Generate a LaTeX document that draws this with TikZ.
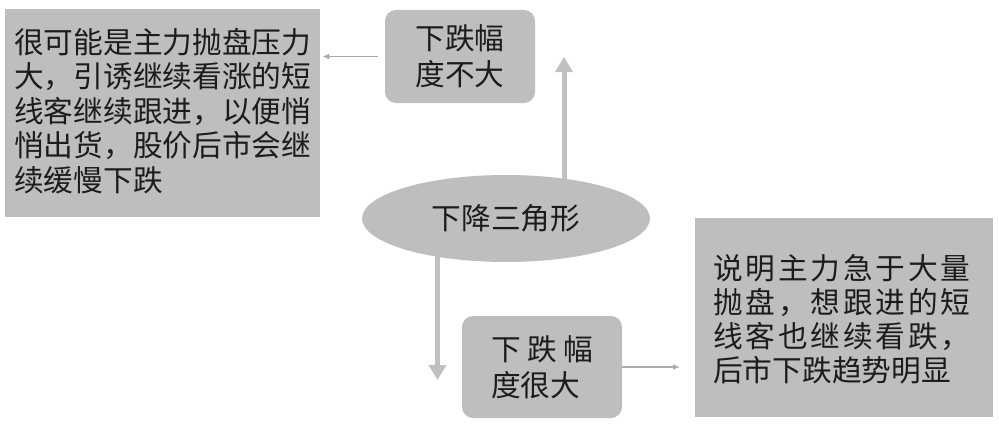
\documentclass[tikz,border=0pt]{standalone}
\usepackage{fontspec}
\newfontfamily\cjk{Noto Sans CJK SC}
\usetikzlibrary{shapes.geometric,arrows.meta,backgrounds}
\definecolor{boxgray}{RGB}{191,190,191}
\definecolor{arrowgray}{RGB}{192,192,192}
\definecolor{linegray}{RGB}{172,172,172}
\definecolor{inkgray}{RGB}{28,28,28}
\makeatletter
\newcommand{\spreadline}[2]{\makebox[#1][s]{\@tempswafalse\@tfor\sp@ch:=#2\do{\if@tempswa\hfill\fi\sp@ch\@tempswatrue}}}
\makeatother
\begin{document}
\begin{tikzpicture}[x=1bp,y=1bp,>=latex,line join=bevel,
  every node/.style={font=\cjk\fontsize{29.7bp}{36bp}\selectfont,text=inkgray},
  panel/.style={fill=boxgray,inner ysep=0},
  roundbox/.style={fill=boxgray,rounded corners=11bp,align=left,inner sep=0},
  thickarrow/.style={draw=arrowgray,line width=5bp,-{Triangle[width=17bp,length=15bp]}},
  thinarrow/.style={draw=linegray,line width=1.2bp,-{Latex[width=6bp,length=7bp]}}]
\useasboundingbox (0,0) rectangle (999,423);
%%
\node (node_tri) at (506,204.5) [ellipse,fill=boxgray,minimum width=288bp,minimum height=87bp,inner sep=0] {下降三角形};
  \node (node_small) at (460,366.5) [roundbox,minimum width=150bp,minimum height=93bp] {\fontsize{29.7bp}{37bp}\selectfont 下跌幅\\度不大};
  \node (node_large) at (542,56) [roundbox,minimum width=160bp,minimum height=102bp] {\spreadline{102bp}{下跌幅}\\度很大};
  \node (node_slow) at (5,414) [panel,anchor=north west,inner xsep=9bp] {\parbox[t][208bp][t]{297bp}{\fontsize{29.7bp}{34.5bp}\selectfont\vspace*{19bp}%
    \mbox{很可能是主力抛盘压力}\\\mbox{大，引诱继续看涨的短}\\\mbox{线客继续跟进，以便悄}\\\mbox{悄出货，股价后市会继}\\\mbox{续缓慢下跌}}};
  \node (node_sharp) at (695,205) [panel,anchor=north west,inner xsep=18bp] {\parbox[t][199bp][t]{262bp}{\fontsize{29.7bp}{34bp}\selectfont\vspace*{36bp}%
    \spreadline{257bp}{说明主力急于大量}\\\spreadline{257bp}{抛盘，想跟进的短}\\\spreadline{257bp}{线客也继续看跌，}\\\mbox{后市下跌趋势明显}}};
  \coordinate (up_tip) at (564,366);
  \coordinate (down_tip) at (437.5,43);
  \begin{scope}[on background layer]
  \draw [thickarrow] (node_tri.center -| up_tip) -- (up_tip);
  \draw [thickarrow] (node_tri.center -| down_tip) -- (down_tip);
  \end{scope}
  \draw [thinarrow,shorten <=7bp,shorten >=2bp] (node_small.west) -- (node_small.west -| node_slow.east);
  \draw [thinarrow,shorten >=15bp] (node_large.east) -- (node_large.east -| node_sharp.west);
%
\end{tikzpicture}
\end{document}
